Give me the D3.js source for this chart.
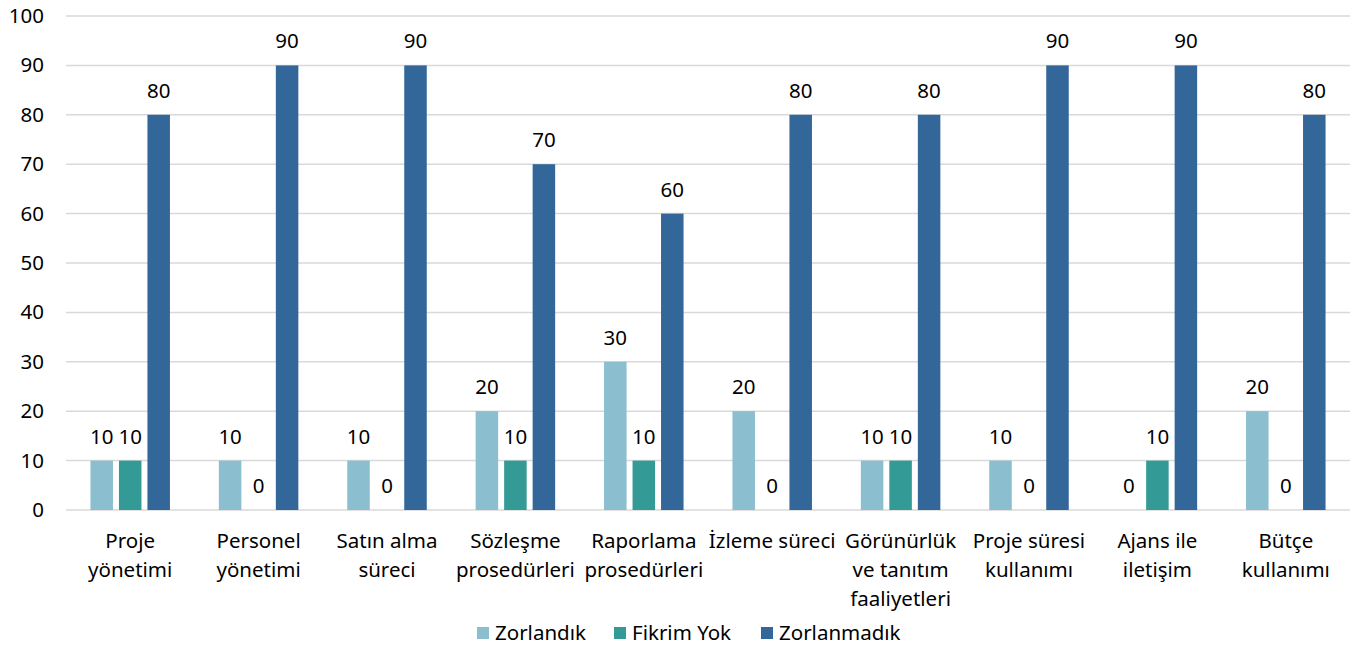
<!DOCTYPE html>
<html>
<head>
<meta charset="utf-8">
<script src="https://cdn.jsdelivr.net/npm/d3@7"></script>
<style>
  body { margin: 0; background: #fff; }
  text { font-family: 'Noto Sans', 'Open Sans', sans-serif; fill: #000; }
</style>
</head>
<body>
<svg></svg>
<script>
var width = 1355;
var height = 646;

// categories (line-broken as on the chart)
var categories = [
  ['Proje', 'yönetimi'],
  ['Personel', 'yönetimi'],
  ['Satın alma', 'süreci'],
  ['Sözleşme', 'prosedürleri'],
  ['Raporlama', 'prosedürleri'],
  ['İzleme süreci'],
  ['Görünürlük', 've tanıtım', 'faaliyetleri'],
  ['Proje süresi', 'kullanımı'],
  ['Ajans ile', 'iletişim'],
  ['Bütçe', 'kullanımı']
];
var seriesNames = ['Zorlandık', 'Fikrim Yok', 'Zorlanmadık'];
var zorlandik   = [10, 10, 10, 20, 30, 20, 10, 10, 0, 20];
var fikrimYok   = [10, 0, 0, 10, 10, 0, 10, 0, 10, 0];
var zorlanmadik = [80, 90, 90, 70, 60, 80, 80, 90, 90, 80];
var yTicks = [0, 10, 20, 30, 40, 50, 60, 70, 80, 90, 100];
var colors = ['#8BBECE', '#339A96', '#336699'];

var fontSize = '20.5px';
var margin = {left: 66, right: 5, top: 16, bottom: 136};

var svg = d3.select('svg')
  .attr('width', width)
  .attr('height', height);

var idx = d3.range(categories.length);
var series = [zorlandik, fikrimYok, zorlanmadik];

var xScale = d3.scaleBand()
  .domain(idx)
  .range([margin.left, width - margin.right]);

var groupW = 79.5;
var inner = d3.scaleBand()
  .domain(d3.range(3))
  .range([0, groupW])
  .paddingInner(0.21);
var innerOffset = (xScale.bandwidth() - groupW) / 2;

var yScale = d3.scaleLinear()
  .domain([0, 100])
  .range([height - margin.bottom, margin.top]);

// gridlines
svg.append('g')
  .selectAll('line')
  .data(yTicks)
  .enter()
  .append('line')
    .attr('x1', margin.left)
    .attr('x2', width - margin.right)
    .attr('y1', d => yScale(d))
    .attr('y2', d => yScale(d))
    .attr('stroke', '#d9d9d9')
    .attr('stroke-width', 1.5);

// y axis labels
var yAxis = svg.append('g')
  .attr('transform', 'translate(' + (margin.left - 22) + ',0)')
  .call(d3.axisLeft(yScale).tickValues(yTicks).tickSize(0).tickPadding(0));
yAxis.select('.domain').remove();
yAxis.selectAll('text')
  .style('font-size', fontSize)
  .style('font-family', "'Noto Sans', sans-serif")
  .attr('fill', '#000');

// bars
series.forEach(function(vals, s) {
  var g = svg.append('g');
  g.selectAll('rect')
    .data(vals)
    .enter()
    .append('rect')
      .attr('x', (d, i) => xScale(i) + innerOffset + inner(s))
      .attr('width', inner.bandwidth())
      .attr('y', d => yScale(d))
      .attr('height', d => yScale(0) - yScale(d))
      .attr('fill', colors[s]);

  g.selectAll('text')
    .data(vals)
    .enter()
    .append('text')
      .attr('x', (d, i) => xScale(i) + innerOffset + inner(s) + inner.bandwidth() / 2)
      .attr('y', d => yScale(d) - 17)
      .attr('text-anchor', 'middle')
      .style('font-size', fontSize)
      .text(d => d);
});

// category labels
var cat = svg.append('g');
categories.forEach(function(lines, i) {
  var t = cat.append('text')
    .attr('text-anchor', 'middle')
    .style('font-size', fontSize);
  lines.forEach(function(line, j) {
    t.append('tspan')
      .attr('x', xScale(i) + xScale.bandwidth() / 2)
      .attr('y', yScale(0) + 38 + j * 29)
      .text(line);
  });
});

// legend
var legend = svg.append('g').attr('transform', 'translate(477,633)');
var legendX = [0, 137, 284];
seriesNames.forEach(function(name, s) {
  legend.append('rect')
    .attr('x', legendX[s])
    .attr('y', -6)
    .attr('width', 12)
    .attr('height', 12)
    .attr('fill', colors[s]);
  legend.append('text')
    .attr('x', legendX[s] + 18)
    .attr('y', 7)
    .style('font-size', fontSize)
    .text(name);
});
</script>
</body>
</html>
